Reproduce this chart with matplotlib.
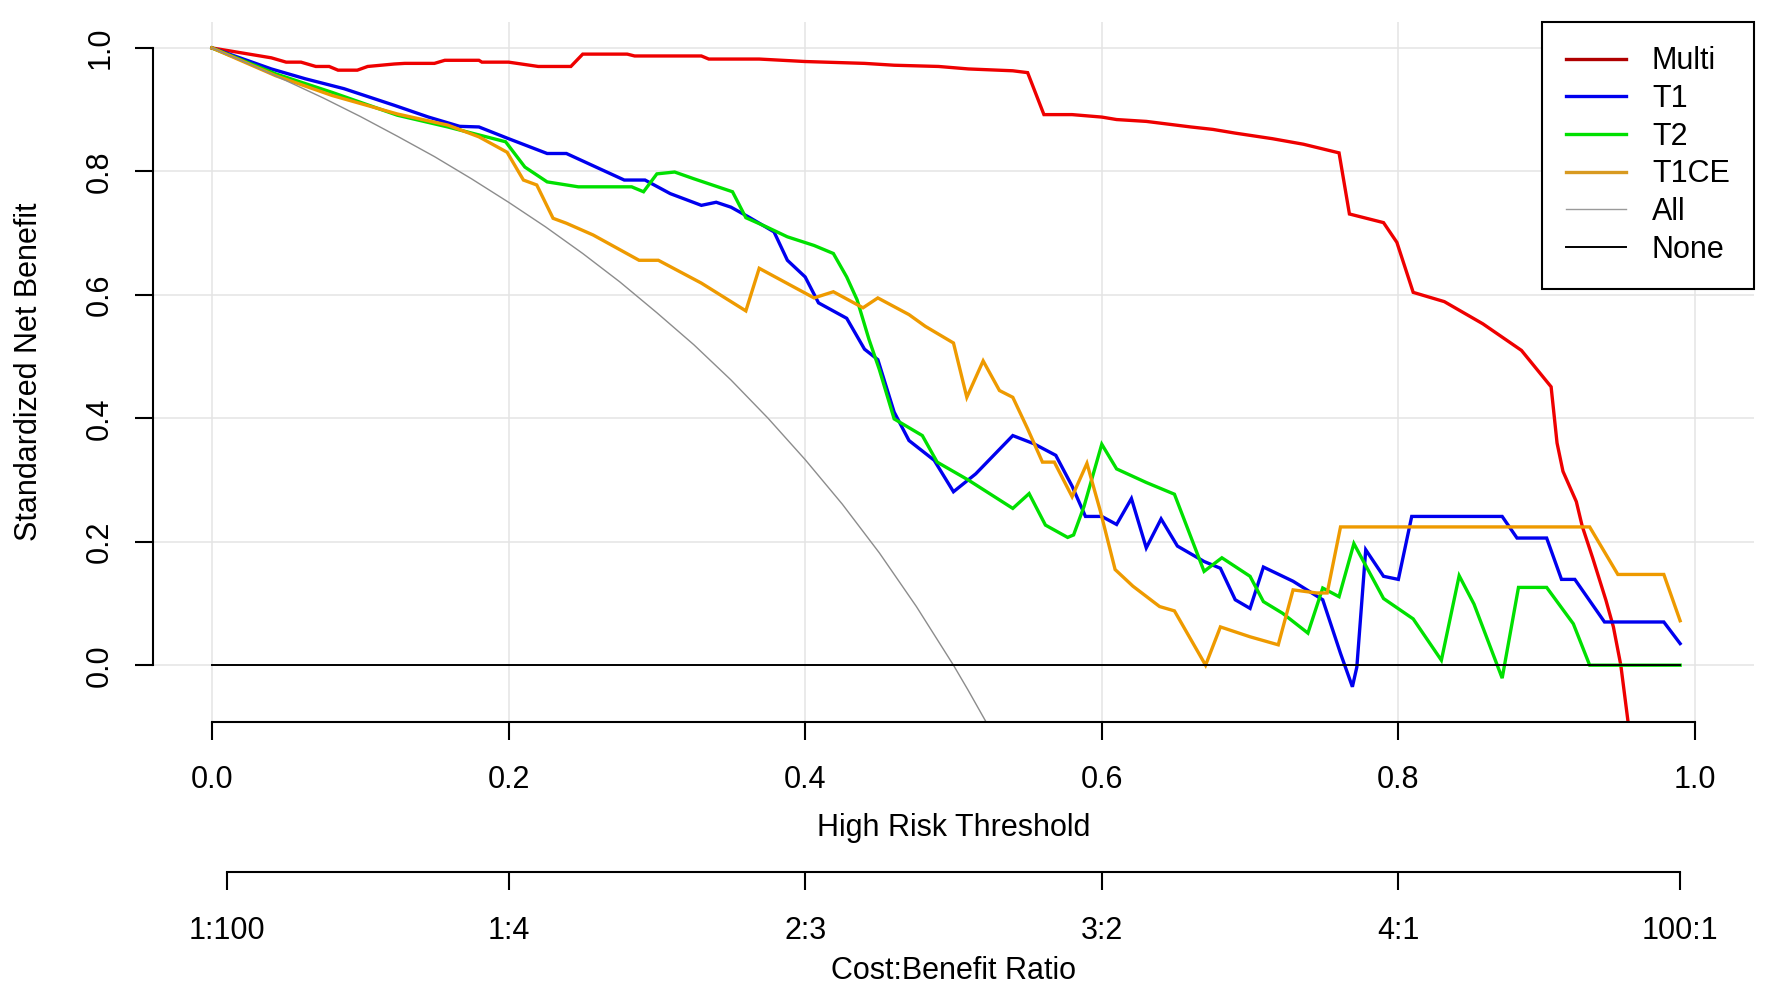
import matplotlib
matplotlib.use("Agg")
import matplotlib.pyplot as plt

plt.rcParams['font.family'] = ['Liberation Sans', 'DejaVu Sans']

# ---- data ----
multi_x = [0, 0.025, 0.04, 0.05, 0.06, 0.07, 0.079, 0.085, 0.098, 0.105, 0.123, 0.13, 0.15,
           0.157, 0.18, 0.182, 0.2, 0.22, 0.242, 0.25, 0.28, 0.285, 0.33, 0.335, 0.369,
           0.4, 0.44, 0.46, 0.49, 0.51, 0.54, 0.55, 0.561, 0.58, 0.6, 0.61, 0.63, 0.66,
           0.675, 0.69, 0.715, 0.736, 0.76, 0.767, 0.79, 0.799, 0.81, 0.831, 0.857, 0.883,
           0.903, 0.907, 0.911, 0.92, 0.924, 0.931, 0.94, 0.945, 0.95, 0.955]
multi_y = [1.0, 0.99, 0.984, 0.977, 0.977, 0.97, 0.97, 0.964, 0.964, 0.97, 0.974, 0.975, 0.975,
           0.98, 0.98, 0.977, 0.977, 0.97, 0.97, 0.99, 0.99, 0.987, 0.987, 0.982, 0.982,
           0.978, 0.975, 0.972, 0.97, 0.966, 0.963, 0.96, 0.892, 0.892, 0.888, 0.884, 0.881, 0.872,
           0.868, 0.862, 0.853, 0.844, 0.83, 0.731, 0.717, 0.685, 0.604, 0.589, 0.553, 0.51,
           0.451, 0.36, 0.314, 0.265, 0.225, 0.174, 0.105, 0.062, 0.0, -0.094]

t1_x = [0, 0.04, 0.063, 0.089, 0.123, 0.146, 0.167, 0.18, 0.2, 0.226, 0.239, 0.278, 0.292,
        0.309, 0.33, 0.34, 0.35, 0.362, 0.379, 0.388, 0.4, 0.409, 0.428, 0.44, 0.449, 0.46,
        0.47, 0.487, 0.5, 0.515, 0.54, 0.554, 0.569, 0.58, 0.589, 0.6, 0.61, 0.62, 0.63,
        0.64, 0.651, 0.669, 0.68, 0.69, 0.7, 0.709, 0.729, 0.749, 0.761, 0.769, 0.772,
        0.778, 0.79, 0.8, 0.809, 0.87, 0.88, 0.9, 0.91, 0.919, 0.939, 0.979, 0.99]
t1_y = [1.0, 0.966, 0.95, 0.934, 0.907, 0.888, 0.873, 0.872, 0.853, 0.829, 0.829, 0.786, 0.786,
        0.764, 0.745, 0.75, 0.742, 0.726, 0.702, 0.656, 0.629, 0.587, 0.562, 0.512, 0.495, 0.41,
        0.364, 0.332, 0.281, 0.31, 0.372, 0.359, 0.34, 0.29, 0.241, 0.241, 0.228, 0.27, 0.19,
        0.237, 0.193, 0.168, 0.157, 0.106, 0.092, 0.159, 0.136, 0.106, 0.019, -0.035, -0.003,
        0.187, 0.144, 0.139, 0.241, 0.241, 0.206, 0.206, 0.139, 0.139, 0.07, 0.07, 0.035]

t2_x = [0, 0.043, 0.081, 0.125, 0.159, 0.198, 0.211, 0.226, 0.247, 0.283, 0.291, 0.3, 0.312,
        0.325, 0.351, 0.36, 0.374, 0.388, 0.406, 0.419, 0.428, 0.435, 0.443, 0.45, 0.46,
        0.479, 0.489, 0.51, 0.54, 0.551, 0.562, 0.577, 0.581, 0.588, 0.6, 0.61, 0.63, 0.649,
        0.669, 0.681, 0.7, 0.709, 0.722, 0.739, 0.749, 0.76, 0.77, 0.79, 0.81, 0.829, 0.841,
        0.851, 0.87, 0.881, 0.9, 0.918, 0.929, 0.99]
t2_y = [1.0, 0.958, 0.928, 0.891, 0.872, 0.848, 0.807, 0.783, 0.775, 0.775, 0.767, 0.796, 0.799,
        0.788, 0.767, 0.725, 0.71, 0.694, 0.68, 0.667, 0.629, 0.592, 0.528, 0.479, 0.399,
        0.372, 0.329, 0.3, 0.254, 0.278, 0.227, 0.207, 0.211, 0.257, 0.358, 0.318, 0.296, 0.277,
        0.152, 0.174, 0.144, 0.103, 0.084, 0.052, 0.125, 0.111, 0.197, 0.108, 0.075, 0.008, 0.145,
        0.099, -0.021, 0.126, 0.126, 0.067, 0.0, 0.0]

t1ce_x = [0, 0.043, 0.081, 0.125, 0.159, 0.18, 0.199, 0.21, 0.219, 0.23, 0.239, 0.257, 0.288,
          0.301, 0.33, 0.36, 0.369, 0.406, 0.419, 0.439, 0.449, 0.47, 0.481, 0.5, 0.509, 0.52,
          0.531, 0.54, 0.55, 0.56, 0.568, 0.58, 0.59, 0.599, 0.609, 0.621, 0.639, 0.649, 0.67,
          0.68, 0.7, 0.719, 0.729, 0.745, 0.752, 0.761, 0.929, 0.948, 0.979, 0.99]
t1ce_y = [1.0, 0.955, 0.923, 0.893, 0.875, 0.856, 0.831, 0.786, 0.778, 0.724, 0.716, 0.697, 0.656,
          0.656, 0.619, 0.574, 0.643, 0.595, 0.605, 0.579, 0.595, 0.568, 0.549, 0.522, 0.434, 0.493,
          0.445, 0.434, 0.383, 0.329, 0.329, 0.273, 0.327, 0.25, 0.155, 0.128, 0.095, 0.088, 0.0,
          0.062, 0.046, 0.033, 0.122, 0.117, 0.117, 0.224, 0.224, 0.147, 0.147, 0.072]

all_x = [0, 0.025, 0.05, 0.075, 0.1, 0.125, 0.15, 0.175, 0.2, 0.225, 0.25, 0.275, 0.3, 0.325,
         0.35, 0.375, 0.4, 0.425, 0.45, 0.475, 0.5, 0.51, 0.522]
all_y = [1.0, 0.974, 0.947, 0.919, 0.889, 0.857, 0.824, 0.788, 0.75, 0.71, 0.667, 0.621, 0.571,
         0.519, 0.462, 0.4, 0.333, 0.261, 0.182, 0.095, 0.0, -0.041, -0.092]

none_x = [0, 0.99]
none_y = [0, 0]

x_ticks = [0.0, 0.2, 0.4, 0.6, 0.8, 1.0]
x_ticklabels = ["0.0", "0.2", "0.4", "0.6", "0.8", "1.0"]
y_ticks = [0.0, 0.2, 0.4, 0.6, 0.8, 1.0]
y_ticklabels = ["0.0", "0.2", "0.4", "0.6", "0.8", "1.0"]
cb_ticks = [1 / 101, 0.2, 0.4, 0.6, 0.8, 100 / 101]
cb_ticklabels = ["1:100", "1:4", "2:3", "3:2", "4:1", "100:1"]

series = [
    ("Multi", multi_x, multi_y, "#EE0000", 2.4),
    ("T1", t1_x, t1_y, "#0000EE", 2.4),
    ("T2", t2_x, t2_y, "#00E000", 2.4),
    ("T1CE", t1ce_x, t1ce_y, "#EE9A00", 2.4),
    ("All", all_x, all_y, "#8C8C8C", 1.0),
    ("None", none_x, none_y, "#000000", 1.4),
]

FS = 22

fig = plt.figure(figsize=(17.67, 9.92), dpi=100)
ax = fig.add_axes([0.0864, 0.2722, 0.9064, 0.7056])
ax.set_xlim(-0.04, 1.04)
ax.set_ylim(-0.092, 1.042)

ax.grid(True, color="#E4E4E4", linewidth=1.1)
ax.set_axisbelow(True)

legend_colors = {"Multi": "#B00000", "T1": "#0000EE", "T2": "#00E000", "T1CE": "#D89A20",
                 "All": "#9A9A9A", "None": "#000000"}
handles = []
for name, xs, ys, col, lw in series:
    ln, = ax.plot(xs, ys, color=col, linewidth=lw, label=name, solid_joinstyle="miter")
    handles.append(ln)

for s in ["top", "right"]:
    ax.spines[s].set_visible(False)
ax.spines["left"].set_bounds(0, 1)
ax.spines["bottom"].set_bounds(0, 1)
ax.spines["left"].set_linewidth(1.5)
ax.spines["bottom"].set_linewidth(1.5)

ax.set_xticks(x_ticks)
ax.set_xticklabels(x_ticklabels)
ax.set_yticks(y_ticks)
ax.set_yticklabels(y_ticklabels)
ax.tick_params(axis="both", length=13, width=1.5, labelsize=FS, direction="out")
ax.tick_params(axis="x", pad=18)
ax.tick_params(axis="y", pad=14)
for lab in ax.get_yticklabels():
    lab.set_rotation(90)
    lab.set_va("center")

ax.set_xlabel("High Risk Threshold", fontsize=FS, labelpad=13)
ax.set_ylabel("Standardized Net Benefit", fontsize=FS, labelpad=30)

sec = ax.secondary_xaxis(-0.214)
sec.set_xticks(cb_ticks)
sec.set_xticklabels(cb_ticklabels)
sec.spines["bottom"].set_bounds(cb_ticks[0], cb_ticks[-1])
sec.spines["bottom"].set_linewidth(1.5)
sec.tick_params(axis="x", length=13, width=1.5, labelsize=FS, pad=19)
sec.set_xlabel("Cost:Benefit Ratio", fontsize=FS, labelpad=7)

leg_handles = []
for h in handles:
    lab = h.get_label()
    lh, = ax.plot([], [], color=legend_colors[lab], linewidth=h.get_linewidth())
    leg_handles.append(lh)
leg = ax.legend(leg_handles, [h.get_label() for h in handles], loc="upper right",
                bbox_to_anchor=(1.0, 1.0), borderaxespad=0, fontsize=FS,
                frameon=True, fancybox=False, edgecolor="black", framealpha=1,
                handlelength=1.95, handletextpad=0.85, labelspacing=0.25,
                borderpad=0.8)
leg.get_frame().set_linewidth(1.5)

fig.savefig("out.png", dpi=100)
